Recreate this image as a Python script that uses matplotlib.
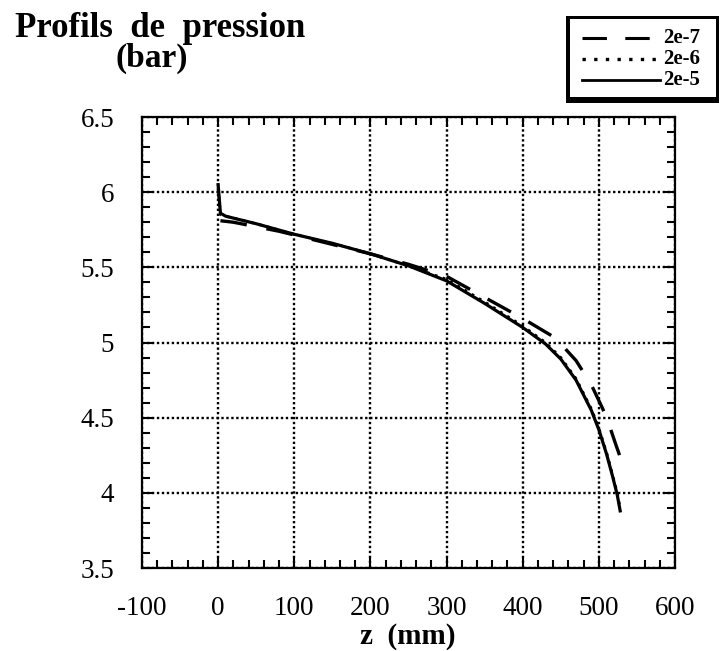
import matplotlib
matplotlib.use("Agg")
import matplotlib.pyplot as plt
from matplotlib.patches import Rectangle
from matplotlib.lines import Line2D
from matplotlib.ticker import MultipleLocator

# ---- data ----
z_2e7 = [3, 20, 40, 80, 120, 160, 200, 250, 300, 350, 400, 443, 470, 490, 505, 515, 523, 530]
p_2e7 = [5.81, 5.80, 5.78, 5.74, 5.69, 5.64, 5.59, 5.52, 5.44, 5.30, 5.16, 5.03, 4.88, 4.72, 4.56, 4.43, 4.31, 4.21]

z_2e6 = [0, 3, 10, 50, 100, 150, 200, 250, 300, 350, 400, 430, 450, 470, 490, 500, 510, 518, 524, 528]
p_2e6 = [6.03, 5.85, 5.84, 5.79, 5.72, 5.66, 5.59, 5.51, 5.42, 5.27, 5.11, 5.00, 4.90, 4.76, 4.56, 4.43, 4.27, 4.12, 4.00, 3.90]

z_2e5 = [0, 3, 10, 50, 100, 150, 200, 250, 300, 350, 400, 430, 450, 470, 490, 500, 510, 518, 524, 528]
p_2e5 = [6.05, 5.86, 5.84, 5.79, 5.72, 5.66, 5.59, 5.51, 5.41, 5.26, 5.10, 4.99, 4.89, 4.75, 4.55, 4.42, 4.26, 4.11, 3.99, 3.88]

series_labels = ["2e-7", "2e-6", "2e-5"]
xticks = [-100, 0, 100, 200, 300, 400, 500, 600]
yticks = [3.5, 4, 4.5, 5, 5.5, 6, 6.5]
ytick_labels = ["3.5", "4", "4.5", "5", "5.5", "6", "6.5"]

W, H = 722, 651
fig = plt.figure(figsize=(W / 100, H / 100), dpi=100)

def fx(px):
    return px / W

def fy(py):
    return 1 - py / H

ax = fig.add_axes([fx(142), fy(568), fx(675) - fx(142), fy(117) - fy(568)])
serif = "Liberation Serif"

ax.set_xlim(-100, 600)
ax.set_ylim(3.5, 6.5)
ax.set_xticks(xticks)
ax.set_xticklabels([str(t) for t in xticks])
ax.set_yticks(yticks)
ax.set_yticklabels(ytick_labels)
ax.xaxis.set_minor_locator(MultipleLocator(20))
ax.yaxis.set_minor_locator(MultipleLocator(0.1))
ax.tick_params(which="both", direction="in", top=True, right=True, width=1.5, color="black")
ax.tick_params(which="major", length=7)
ax.tick_params(which="minor", length=6)
ax.tick_params(axis="x", which="major", pad=20, labelsize=19.5)
ax.tick_params(axis="y", which="major", pad=20, labelsize=19.5)
for lab in ax.get_xticklabels() + ax.get_yticklabels():
    lab.set_fontfamily(serif)
for s in ax.spines.values():
    s.set_linewidth(1.6)

ax.grid(True, which="major", color="black", linestyle=(0, (1, 1.1)), linewidth=1.7)

ax.plot(z_2e6, p_2e6, color="black", lw=2.0, linestyle=(0, (1, 2)))
ax.plot(z_2e7, p_2e7, color="black", lw=2.4, linestyle=(0, (8, 6)))
ax.plot(z_2e5, p_2e5, color="black", lw=2.3, linestyle="-")

fig.text(fx(408), fy(637), "z  (mm)", fontfamily=serif, fontweight="bold", fontsize=21,
         ha="center", va="center")

fig.text(fx(15), fy(37), "Profils  de  pression", fontfamily=serif, fontweight="bold",
         fontsize=25, ha="left", va="baseline")
fig.text(fx(152), fy(58), "(bar)", fontfamily=serif, fontweight="bold",
         fontsize=24, ha="center", va="center")

# legend box
fig.add_artist(Rectangle((fx(566), fy(103)), fx(719) - fx(566), fy(16) - fy(103),
                         transform=fig.transFigure, facecolor="black", edgecolor="none"))
fig.add_artist(Rectangle((fx(570), fy(97)), fx(716) - fx(570), fy(19) - fy(97),
                         transform=fig.transFigure, facecolor="white", edgecolor="none"))
styles = [dict(lw=2.2, linestyle=(0, (8, 6))), dict(lw=2.4, linestyle=(0, (1, 2.5))), dict(lw=2.0, linestyle="-")]
rows = [38, 59, 80]
for lab, st, ry in zip(series_labels, styles, rows):
    fig.add_artist(Line2D([fx(582), fx(660)], [fy(ry), fy(ry)], transform=fig.transFigure,
                          color="black", **st))
    fig.text(fx(663), fy(ry), lab, fontfamily=serif, fontweight="bold", fontsize=15,
             ha="left", va="center")

fig.savefig("out.png", dpi=100)
